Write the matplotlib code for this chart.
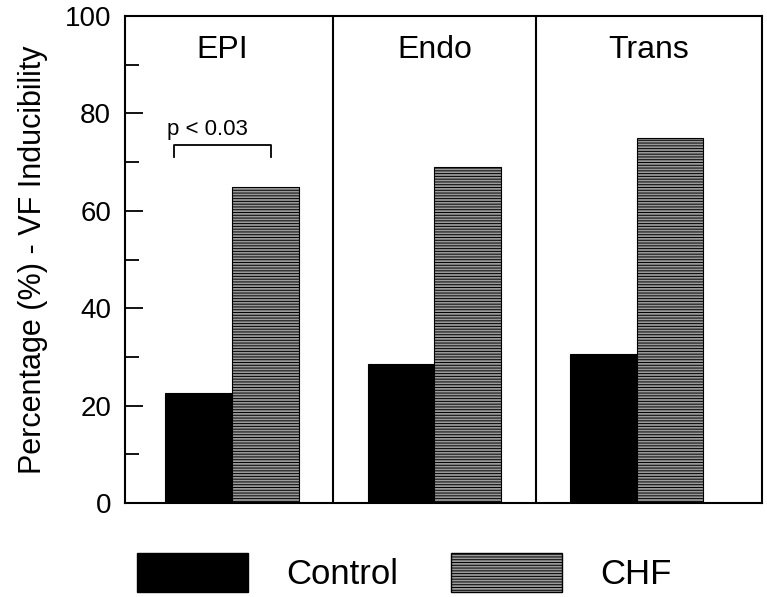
import matplotlib
matplotlib.use("Agg")
import matplotlib.pyplot as plt
from matplotlib.patches import Patch
from matplotlib.ticker import MultipleLocator

plt.rcParams['font.family'] = ['Liberation Sans', 'DejaVu Sans']
plt.rcParams['hatch.linewidth'] = 0.7

regions = ['EPI', 'Endo', 'Trans']
control = [22.5, 28.5, 30.5]
chf = [65, 69, 75]
series_names = ['Control', 'CHF']
p_text = 'p < 0.03'
ylabel = 'Percentage (%) - VF Inducibility'

fig = plt.figure(figsize=(7.67, 5.97), dpi=100)
ax = fig.add_axes([0.163, 0.1575, 0.8305, 0.8155])

x = list(range(len(regions)))
w = 0.33
ax.bar([i - w / 2 for i in x], control, width=w, color='black', edgecolor='black', linewidth=0.8)
ax.bar([i + w / 2 for i in x], chf, width=w, color='#9a9a9a', edgecolor='black',
       hatch='------', linewidth=0.8)

# panel dividers
for d in [0.5, 1.5]:
    ax.axvline(d, color='black', lw=1.5)

label_x = [-0.05, 1.0, 2.06]
for lx, r in zip(label_x, regions):
    ax.text(lx, 93, r, ha='center', va='center', fontsize=23)

# significance bracket in EPI panel
bx0, bx1, by = -0.29, 0.19, 73.5
ax.plot([bx0, bx0, bx1, bx1], [71, by, by, 71], color='black', lw=1.3)
ax.text(-0.12, 76.8, p_text, ha='center', va='center', fontsize=16)

ax.set_xlim(-0.53, 2.62)
ax.set_ylim(0, 100)
ax.set_xticks([])
ax.yaxis.set_major_locator(MultipleLocator(20))
ax.yaxis.set_minor_locator(MultipleLocator(10))
ax.tick_params(axis='y', which='major', direction='in', length=13, width=1.3, labelsize=20, pad=10)
ax.tick_params(axis='y', which='minor', direction='in', length=10, width=1.3)
for s in ax.spines.values():
    s.set_linewidth(1.5)
ax.set_ylabel(ylabel, fontsize=22, labelpad=12)

handles = [Patch(facecolor='black', edgecolor='black'),
           Patch(facecolor='#9a9a9a', edgecolor='black', hatch='------')]
fig.legend(handles, series_names, loc='center', bbox_to_anchor=(0.527, 0.041), ncol=2,
           frameon=False, fontsize=25, handlelength=3.2, handleheight=1.35,
           handletextpad=1.1, columnspacing=1.5)

fig.savefig('out.png', dpi=100)
